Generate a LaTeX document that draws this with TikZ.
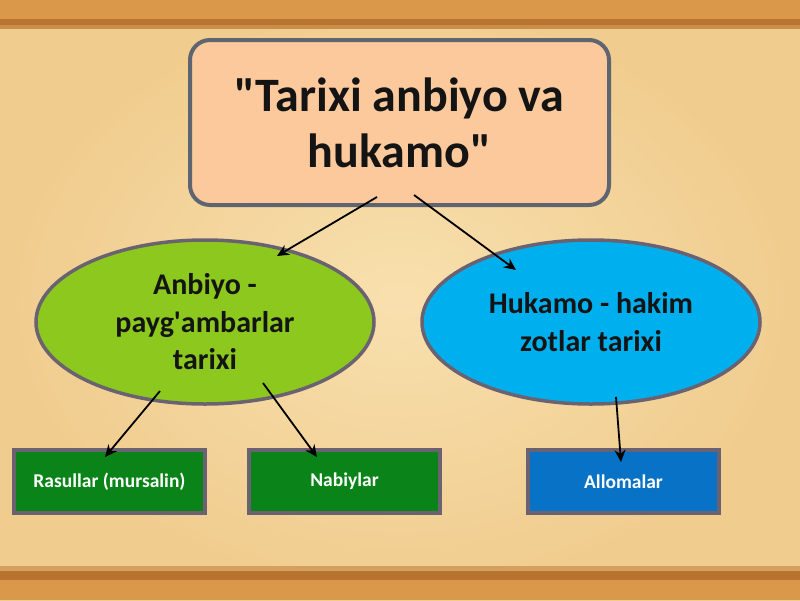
\documentclass[tikz,border=0pt]{standalone}
\usepackage{fontspec}
\setmainfont{Carlito}
\usetikzlibrary{shapes.geometric,arrows.meta}
\definecolor{woodA}{HTML}{D9984A}
\definecolor{woodB}{HTML}{B8742E}
\definecolor{paperA}{HTML}{F8E0AE}
\definecolor{paperB}{HTML}{F0CC8E}
\definecolor{peach}{HTML}{FBC99B}
\definecolor{frame}{HTML}{5E6470}
\definecolor{lime}{HTML}{8CC81E}
\definecolor{sky}{HTML}{00B0EE}
\definecolor{darkgreen}{HTML}{0A8418}
\definecolor{darkblue}{HTML}{0872C6}
\definecolor{boxframe}{HTML}{6A6270}
\definecolor{txt}{HTML}{141414}
\tikzset{
  x=1pt, y=-1pt,
  titlebox/.style={draw=frame, line width=4pt, fill=peach, rounded corners=20pt,
    minimum width=419pt, minimum height=165pt, align=center, text=txt,
    font=\fontsize{48}{56}\selectfont\bfseries, inner sep=0pt},
  oval/.style={ellipse, draw=boxframe, line width=3.5pt, minimum width=338pt,
    minimum height=164pt, align=center, text=txt, inner sep=0pt,
    font=\fontsize{30}{37.5}\selectfont\bfseries},
  leaf/.style={draw=boxframe, line width=4pt, minimum width=191pt, minimum height=63pt,
    text=white, font=\fontsize{19.5}{22}\selectfont\bfseries, inner sep=0pt},
  conn/.style={line width=1.8pt, -{Stealth[length=12pt,width=11pt]}, black}
}
\begin{document}
\begin{tikzpicture}
\useasboundingbox (0,0) rectangle (800,600);
% background
\shade[inner color=paperA, outer color=paperB] (0,0) rectangle (800,600);
\fill[woodA] (0,0) rectangle (800,22);
\fill[woodB] (0,19) rectangle (800,25);
\fill[woodB!70!paperB] (0,25) rectangle (800,29);
\fill[woodB!50!paperB] (0,566) rectangle (800,571);
\fill[woodB] (0,571) rectangle (800,580);
\fill[woodA] (0,580) rectangle (800,600);
% nodes
\node[titlebox] (title) at (399.5,122.5) {\textquotedbl Tarixi anbiyo va\\hukamo\textquotedbl};
\node[oval, fill=lime] (anb) at (205,322) {Anbiyo -\\payg\textquotesingle ambarlar\\tarixi};
\node[oval, fill=sky] (huk) at (591,322) {Hukamo - hakim\\zotlar tarixi};
\node[leaf, fill=darkgreen] (ras) at (109.5,481.5) {Rasullar (mursalin)};
\node[leaf, fill=darkgreen] (nab) at (344.5,481.5) {Nabiylar};
\node[leaf, fill=darkblue] (all) at (623.5,481.5) {Allomalar};
% connector ends
\coordinate (t1) at (377,197);
\coordinate (t2) at (414,195);
\coordinate (a1) at (160,391);
\coordinate (a2) at (263,383);
\coordinate (h1) at (616,397);
\coordinate (e1) at (277,256);
\coordinate (e2) at (516,270);
\coordinate (e3) at (105,457);
\coordinate (e4) at (317,457);
\coordinate (e5) at (621,462);
\draw[conn] (t1) -- (e1);
\draw[conn] (t2) -- (e2);
\draw[conn] (a1) -- (e3);
\draw[conn] (a2) -- (e4);
\draw[conn] (h1) -- (e5);
\end{tikzpicture}
\end{document}
